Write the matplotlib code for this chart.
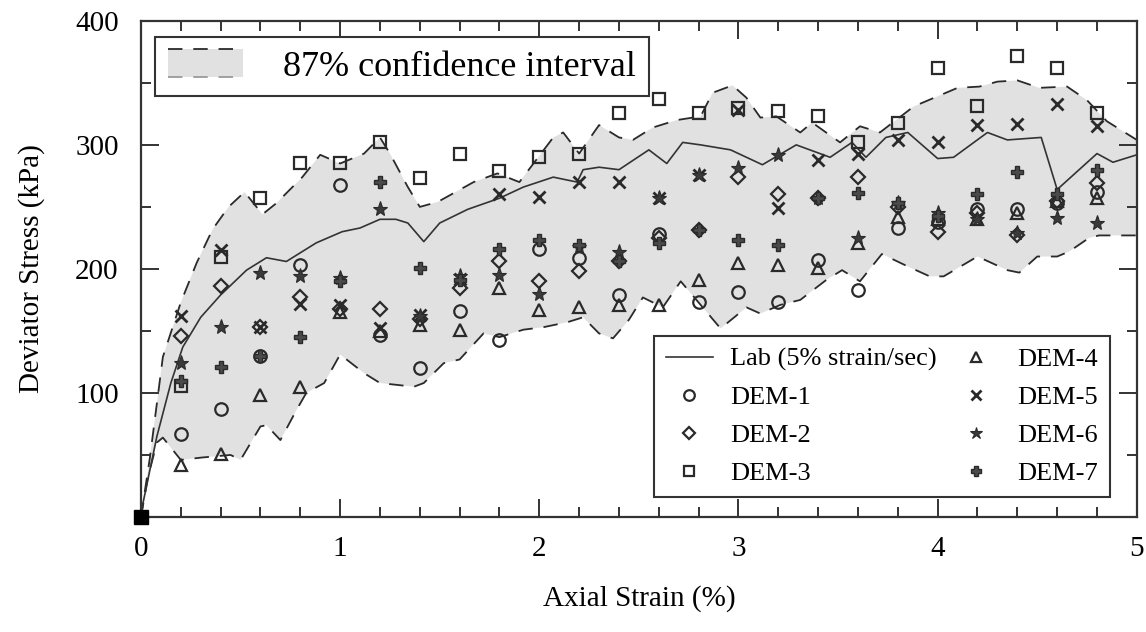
import matplotlib
matplotlib.use("Agg")
import matplotlib.pyplot as plt
import matplotlib.ticker as ticker
from matplotlib.legend_handler import HandlerBase
from matplotlib.lines import Line2D
from matplotlib.patches import Rectangle

# DEM samples are taken every 0.2 % of axial strain
STRAIN = [0.2, 0.4, 0.6, 0.8, 1.0, 1.2, 1.4, 1.6, 1.8, 2.0, 2.2, 2.4,
          2.6, 2.8, 3.0, 3.2, 3.4, 3.6, 3.8, 4.0, 4.2, 4.4, 4.6, 4.8]

DEM1 = [67, 87, 130, 203, 268, 147, 120, 166, 143, 216, 209, 179,
        228, 173, 181, 173, 207, 183, 233, 238, 248, 248, 253, 262]
DEM2 = [146, 186, 153, 177, 168, 168, 160, 185, 206, 190, 198, 206,
        225, 231, 274, 260, 257, 274, 250, 230, 245, 227, 255, 269]
DEM3 = [106, 210, 257, 285, 285, 302, 273, 293, 279, 290, 293, 326,
        337, 326, 330, 327, 323, 302, 318, 362, 331, 372, 362, 326]
DEM4 = [42, 51, 98, 105, 165, 150, 155, 151, 185, 167, 169, 171,
        171, 191, 205, 203, 201, 221, 242, 240, 240, 245, 255, 257]
DEM5 = [162, 215, 153, 172, 171, 152, 163, 192, 260, 258, 270, 270,
        257, 276, 328, 249, 288, 293, 304, 302, 316, 317, 333, 315]
DEM6 = [124, 153, 197, 194, 193, 248, 162, 194, 195, 180, 218, 214,
        257, 276, 281, 292, 257, 225, 253, 245, 240, 229, 241, 237]
DEM7 = [110, 121, 130, 145, 190, 270, 201, 191, 216, 223, 219, 206,
        221, 231, 223, 219, 257, 261, 253, 243, 260, 278, 260, 280]

# laboratory curve, 5% strain/sec
LAB_STRAIN = [0, 0.01, 0.08, 0.15, 0.21, 0.30, 0.40, 0.53, 0.63, 0.73, 0.88,
              1.01, 1.10, 1.20, 1.28, 1.34, 1.42, 1.50, 1.64, 1.80, 1.92,
              2.07, 2.19, 2.22, 2.30, 2.40, 2.55, 2.64, 2.72, 2.81, 2.96,
              3.12, 3.29, 3.46, 3.57, 3.64, 3.74, 3.85, 4.00, 4.08, 4.25,
              4.35, 4.52, 4.60, 4.80, 4.88, 5.0]
LAB_STRESS = [0, 11, 65, 108, 137, 161, 179, 199, 209, 206, 221,
              230, 233, 240, 240, 237, 222, 237, 248, 257, 266,
              274, 270, 280, 282, 280, 296, 285, 302, 300, 296,
              284, 300, 290, 302, 290, 306, 310, 289, 290, 310,
              304, 306, 264, 293, 286, 292]

# 87% confidence band
UPPER_STRAIN = [0, 0.045, 0.11, 0.20, 0.28, 0.36, 0.44, 0.52, 0.61, 0.68,
                0.81, 0.90, 1.00, 1.12, 1.20, 1.25, 1.34, 1.40, 1.49, 1.67,
                1.79, 1.90, 2.07, 2.12, 2.20, 2.30, 2.40, 2.47, 2.57, 2.69,
                2.81, 2.87, 2.97, 3.04, 3.11, 3.19, 3.31, 3.37, 3.51, 3.61,
                3.71, 3.88, 4.10, 4.21, 4.30, 4.40, 4.51, 4.65, 4.75, 4.85, 5.0]
UPPER_STRESS = [0, 48, 129, 173, 205, 232, 250, 262, 244, 253,
                274, 292, 285, 293, 306, 293, 266, 250, 254, 270,
                277, 270, 306, 310, 293, 316, 306, 304, 314, 320,
                323, 342, 348, 338, 322, 323, 310, 318, 302, 315,
                310, 331, 346, 347, 351, 352, 346, 347, 336, 319, 304]
LOWER_STRAIN = [0, 0.035, 0.08, 0.11, 0.20, 0.31, 0.45, 0.50, 0.60, 0.63,
                0.70, 0.78, 0.83, 0.92, 1.00, 1.12, 1.20, 1.37, 1.42, 1.52,
                1.60, 1.72, 1.80, 1.92, 2.02, 2.14, 2.22, 2.30, 2.37, 2.45,
                2.52, 2.62, 2.71, 2.81, 2.91, 3.04, 3.11, 3.21, 3.31, 3.44,
                3.52, 3.61, 3.72, 3.85, 3.96, 4.03, 4.20, 4.35, 4.41, 4.50,
                4.60, 4.66, 4.76, 4.81, 5.0]
LOWER_STRESS = [0, 32, 60, 64, 46, 48, 50, 46, 73, 74,
                62, 86, 100, 108, 131, 116, 108, 105, 108, 124,
                127, 148, 145, 151, 153, 157, 161, 148, 144, 159,
                177, 169, 190, 171, 152, 169, 164, 171, 175, 191,
                199, 190, 212, 202, 194, 194, 210, 199, 197, 210,
                210, 214, 225, 227, 227]

BAND_GREY = "#e1e1e1"
INK = "#2a2a2a"
DASH = (0, (8, 6))


class BandHandler(HandlerBase):
    """Grey box with a dark dashed top edge and a light dashed bottom edge."""

    def create_artists(self, legend, orig_handle, xdescent, ydescent,
                       width, height, fontsize, trans):
        x0, y0 = -xdescent, -ydescent
        box = Rectangle((x0, y0), width, height, facecolor=BAND_GREY,
                        edgecolor="none", transform=trans)
        top = Line2D([x0, x0 + width], [y0 + height] * 2, color=INK,
                     lw=1.3, ls=DASH, transform=trans)
        bottom = Line2D([x0, x0 + width], [y0] * 2, color="#9a9a9a",
                        lw=1.3, ls=DASH, transform=trans)
        return [box, top, bottom]


def plot_stress_strain():
    plt.rcParams["font.family"] = ["Liberation Serif", "DejaVu Serif"]
    fig = plt.figure(figsize=(11.46, 6.32), dpi=100)
    ax = fig.add_axes([0.123, 0.182, 0.869, 0.785])

    band_x = UPPER_STRAIN + LOWER_STRAIN[::-1]
    band_y = UPPER_STRESS + LOWER_STRESS[::-1]
    band = ax.fill(band_x, band_y, color=BAND_GREY, lw=0, zorder=1)[0]
    ax.plot(UPPER_STRAIN, UPPER_STRESS, color=INK, lw=1.3, ls=DASH, zorder=2)
    ax.plot(LOWER_STRAIN, LOWER_STRESS, color=INK, lw=1.3, ls=DASH, zorder=2)

    lab, = ax.plot(LAB_STRAIN, LAB_STRESS, color="#333333", lw=1.2, zorder=3,
                   label="Lab (5% strain/sec)")

    open_style = dict(ls="none", mfc="none", mec=INK, mew=1.6, zorder=4)
    d1, = ax.plot(STRAIN, DEM1, marker="o", ms=9, label="DEM-1", **open_style)
    d2, = ax.plot(STRAIN, DEM2, marker="D", ms=7, label="DEM-2", **open_style)
    d3, = ax.plot(STRAIN, DEM3, marker="s", ms=9, label="DEM-3", **open_style)
    d4, = ax.plot(STRAIN, DEM4, marker="^", ms=9, label="DEM-4", **open_style)
    d5, = ax.plot(STRAIN, DEM5, marker="x", ms=9, ls="none", mec=INK,
                  mew=2.0, zorder=4, label="DEM-5")
    d6, = ax.plot(STRAIN, DEM6, marker="*", ms=11, ls="none", mfc="#3a3a3a",
                  mec=INK, mew=0.8, zorder=4, label="DEM-6")
    d7, = ax.plot(STRAIN, DEM7, marker="P", ms=9, ls="none", mfc="#4a4a4a",
                  mec=INK, mew=1.0, zorder=4, label="DEM-7")

    ax.plot([0], [0], marker="s", ms=10, color="black", clip_on=False, zorder=6)

    ax.set_xlim(0, 5)
    ax.set_ylim(0, 400)
    ax.set_xticks([0, 1, 2, 3, 4, 5])
    ax.set_yticks([0, 100, 200, 300, 400])
    ax.set_yticklabels(["", "100", "200", "300", "400"])
    ax.xaxis.set_minor_locator(ticker.MultipleLocator(0.2))
    ax.yaxis.set_minor_locator(ticker.MultipleLocator(50))
    ax.tick_params(which="both", direction="in", top=True, right=True,
                   width=1.4, color="#333333", labelsize=21)
    ax.tick_params(which="major", length=13)
    ax.tick_params(which="minor", length=7)
    ax.tick_params(axis="x", which="major", pad=14)
    ax.tick_params(axis="y", which="major", pad=16)
    for spine in ax.spines.values():
        spine.set_linewidth(1.6)
        spine.set_color("#333333")

    ax.set_xlabel("Axial Strain (%)", fontsize=21, labelpad=16)
    ax.set_ylabel("Deviator Stress (kPa)", fontsize=21, labelpad=22)

    band_legend = ax.legend([band], ["87% confidence interval"],
                            handler_map={band: BandHandler()},
                            loc="upper left", bbox_to_anchor=(0.014, 0.968),
                            borderaxespad=0, fontsize=26, handlelength=2.1,
                            handleheight=0.8, handletextpad=1.1,
                            borderpad=0.35, fancybox=False, framealpha=1,
                            edgecolor="#333333")
    band_legend.get_frame().set_linewidth(1.5)
    ax.add_artist(band_legend)

    series_legend = ax.legend([lab, d1, d2, d3, d4, d5, d6, d7],
                              [h.get_label() for h in
                               (lab, d1, d2, d3, d4, d5, d6, d7)],
                              ncol=2, loc="lower right",
                              bbox_to_anchor=(0.973, 0.040), borderaxespad=0,
                              fontsize=19, handlelength=1.8,
                              handletextpad=0.65, columnspacing=0.6,
                              labelspacing=0.55, borderpad=0.45,
                              markerscale=0.85, fancybox=False, framealpha=1,
                              edgecolor="#333333")
    series_legend.get_frame().set_linewidth(1.5)
    return fig


if __name__ == "__main__":
    fig = plot_stress_strain()
    fig.savefig("out.png", dpi=100)
